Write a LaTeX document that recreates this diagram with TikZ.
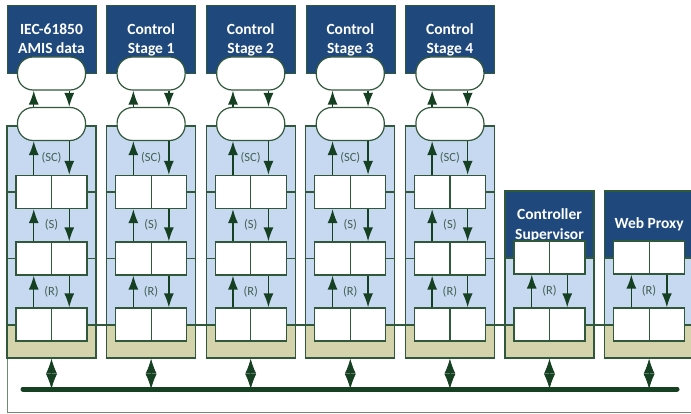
\documentclass[tikz,border=0pt]{standalone}
\usepackage{fontspec}
\setmainfont{Carlito}
\usetikzlibrary{arrows.meta}
\definecolor{hdrblue}{RGB}{31,73,125}
\definecolor{panelblue}{RGB}{198,217,241}
\definecolor{mytan}{RGB}{212,211,172}
\definecolor{dkgreen}{RGB}{22,64,34}
\definecolor{framegreen}{RGB}{48,88,58}
\definecolor{lblgreen}{RGB}{66,96,82}
\definecolor{outlinegreen}{RGB}{110,140,115}
\tikzset{
  hdrtext/.style={text=white, font=\fontsize{15.5}{18}\selectfont\bfseries, anchor=base, inner sep=0pt},
  stad/.style={draw=framegreen, fill=white, line width=1.2pt, rounded corners=15.5pt, minimum width=68pt, minimum height=33pt, inner sep=0pt},
  cell/.style={draw=framegreen, fill=white, line width=1.2pt, minimum width=35.5pt, minimum height=33pt, inner sep=0pt},
  lbl/.style={text=lblgreen, font=\fontsize{12.5}{14}\selectfont, inner sep=0pt},
  flow/.style={draw=dkgreen, line width=1.4pt, -{Latex[length=14pt,width=10pt]}},
  bidir/.style={draw=dkgreen, line width=0.8pt, {Latex[length=15pt,width=11pt]}-{Latex[length=15pt,width=11pt]}},
  busline/.style={draw=dkgreen, line width=5pt, line cap=round},
  frame/.style={draw=framegreen, line width=1.2pt, inner sep=0pt, minimum width=89pt},
  stub/.style={draw=framegreen, line width=1.2pt},
}
\begin{document}
\begin{tikzpicture}[x=1pt,y=-1pt]
\useasboundingbox (0,0) rectangle (691,414);
\clip (0,0) rectangle (691,414);

% outer frame
\draw[outlinegreen, line width=1pt] (7,358) -- (7,412) -- (691,412);

% bus
\coordinate (busL) at (23,389);
\coordinate (busR) at (677,389);
\draw[busline] (busL) -- (busR);

% ---------- columns 1-5 ----------
\foreach \i/\ta/\tb in {1/IEC-61850/AMIS data, 2/Control/Stage 1, 3/Control/Stage 2, 4/Control/Stage 3, 5/Control/Stage 4}{
  \pgfmathsetmacro{\cx}{51.5+99.6*(\i-1)}
  % header
  \fill[hdrblue] (\cx-44.5,5.5) rectangle (\cx+44.5,73);
  \draw[framegreen, line width=0.6pt] (\cx-44.5,5.5) rectangle (\cx+44.5,73);
  \node[hdrtext] (ha-\i) at (\cx,35) {\ta};
  \node[hdrtext] (hb-\i) at (\cx,54) {\tb};
  % panel
  \fill[panelblue] (\cx-44.5,126) rectangle (\cx+44.5,325);
  \fill[mytan] (\cx-44.5,325) rectangle (\cx+44.5,358);
  \node[frame, minimum height=232pt] (pan-\i) at (\cx,242) {};
  \draw[stub] (\cx-44.5,192) -- (\cx+44.5,192);
  \draw[stub] (\cx-44.5,258.5) -- (\cx+44.5,258.5);
}

% ---------- columns 6-7 ----------
\foreach \i in {6,7}{
  \pgfmathsetmacro{\cx}{51.5+99.6*(\i-1)}
  \fill[hdrblue] (\cx-44.5,191) rectangle (\cx+44.5,258);
  \fill[panelblue] (\cx-44.5,258) rectangle (\cx+44.5,325);
  \fill[mytan] (\cx-44.5,325) rectangle (\cx+44.5,358);
  \node[frame, minimum height=167pt] (pan-\i) at (\cx,274.5) {};
  \draw[stub] (\cx-44.5,258) -- (\cx+44.5,258);
}
\node[hdrtext] (ha-6) at (549.5,220) {Controller};
\node[hdrtext] (hb-6) at (549.5,240) {Supervisor};
\node[hdrtext] (ha-7) at (649.1,229) {Web Proxy};

% line between blue and tan bands
\draw[stub] (7,325) -- (691,325);

% ---------- boxes and arrows, columns 1-5 ----------
\foreach \i in {1,...,5}{
  \pgfmathsetmacro{\cx}{51.5+99.6*(\i-1)}
  \node[stad] (ta-\i) at (\cx,73.5) {};
  \node[stad] (tb-\i) at (\cx,124) {};
  \node[cell] (p1l-\i) at (\cx-17.75,192) {};
  \node[cell] (p1r-\i) at (\cx+17.75,192) {};
  \node[cell] (p2l-\i) at (\cx-17.75,258.5) {};
  \node[cell] (p2r-\i) at (\cx+17.75,258.5) {};
  \node[cell] (p3l-\i) at (\cx-17.75,324.5) {};
  \node[cell] (p3r-\i) at (\cx+17.75,324.5) {};
  % stadium to stadium
  \draw[flow] (tb-\i.north -| p1l-\i.north) -- (ta-\i.south -| p1l-\i.north);
  \draw[flow] (ta-\i.south -| p1r-\i.north) -- (tb-\i.north -| p1r-\i.north);
  % stadium to pair 1
  \draw[flow] (p1l-\i.north) -- (tb-\i.south -| p1l-\i.north);
  \draw[flow] (tb-\i.south -| p1r-\i.north) -- (p1r-\i.north);
  \node[lbl] (lsc-\i) at (\cx,158) {(SC)};
  % pair 1 to pair 2
  \draw[flow] (p2l-\i.north) -- (p1l-\i.south);
  \draw[flow] (p1r-\i.south) -- (p2r-\i.north);
  \node[lbl] (ls-\i) at (\cx,225) {(S)};
  % pair 2 to pair 3
  \draw[flow] (p3l-\i.north) -- (p2l-\i.south);
  \draw[flow] (p2r-\i.south) -- (p3r-\i.north);
  \node[lbl] (lr-\i) at (\cx,291.5) {(R)};
}

% ---------- boxes and arrows, columns 6-7 ----------
\foreach \i in {6,7}{
  \pgfmathsetmacro{\cx}{51.5+99.6*(\i-1)}
  \node[cell] (p2l-\i) at (\cx-17.75,257.5) {};
  \node[cell] (p2r-\i) at (\cx+17.75,257.5) {};
  \node[cell] (p3l-\i) at (\cx-17.75,324.5) {};
  \node[cell] (p3r-\i) at (\cx+17.75,324.5) {};
  \draw[flow] (p3l-\i.north) -- (p2l-\i.south);
  \draw[flow] (p2r-\i.south) -- (p3r-\i.north);
  \node[lbl] (lr-\i) at (\cx,291) {(R)};
}

% ---------- bus connectors ----------
\foreach \i in {1,...,7}{
  \draw[bidir] (pan-\i.south) -- (pan-\i.south |- busL);
}
\end{tikzpicture}
\end{document}
